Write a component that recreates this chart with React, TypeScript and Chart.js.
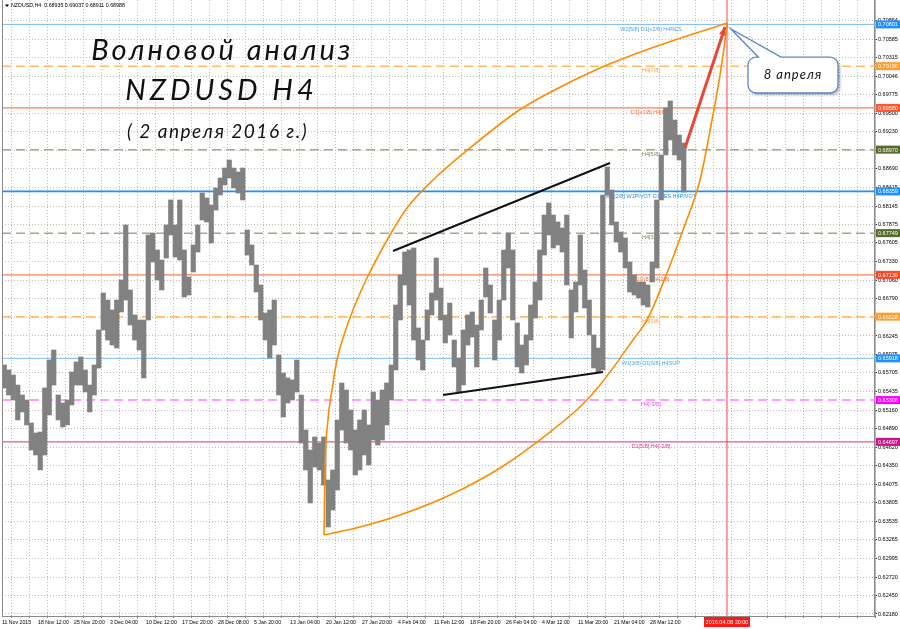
import React, { useEffect, useRef } from "react";
import { Chart, registerables } from "chart.js";
Chart.register(...registerables);

// ---------------- data ----------------
const symbolTitle = "NZDUSD,H4";
const headerOHLC = [0.68935, 0.69037, 0.68911, 0.68988];

// date labels (one every 8 samples; 1 sample = 3 H4 bars)
const xLabels = [
  "11 Nov 2015", "18 Nov 12:00", "25 Nov 20:00", "3 Dec 04:00", "10 Dec 12:00",
  "17 Dec 20:00", "28 Dec 08:00", "5 Jan 20:00", "13 Jan 04:00", "20 Jan 12:00",
  "27 Jan 20:00", "4 Feb 04:00", "11 Feb 12:00", "18 Feb 20:00", "26 Feb 04:00",
  "4 Mar 12:00", "11 Mar 20:00", "21 Mar 04:00", "28 Mar 12:00",
];
const labelStep = 8;
const gridStep = 4;
const xMin = -0.5;
const xMax = 193.5;

const highs = [
  0.65821, 0.65748, 0.65675, 0.65528, 0.65382, 0.65309, 0.64973, 0.64827, 0.64841, 0.65485,
  0.65894, 0.66040, 0.65382, 0.65265, 0.65309, 0.65719, 0.65865, 0.65938, 0.65748, 0.65528,
  0.65821, 0.66333, 0.66874, 0.66771, 0.66625, 0.66771, 0.67064, 0.67868, 0.66918, 0.66552,
  0.66479, 0.66479, 0.67722, 0.67751, 0.67502, 0.67356, 0.67868, 0.68234, 0.67868, 0.68234,
  0.67502, 0.67108, 0.67576, 0.67868, 0.68336, 0.68263, 0.68160, 0.68409, 0.68555, 0.68701,
  0.68818, 0.68701, 0.68643, 0.68701, 0.67795, 0.67576, 0.67283, 0.66991, 0.66581, 0.66625,
  0.66771, 0.65967, 0.65704, 0.65631, 0.65602, 0.65894, 0.65382, 0.64870, 0.64578, 0.64768,
  0.64680, 0.64768, 0.64139, 0.64286, 0.65017, 0.65558, 0.65455, 0.65163, 0.64870, 0.65017,
  0.65163, 0.64944, 0.65426, 0.65309, 0.65455, 0.65558, 0.65821, 0.66698, 0.67137, 0.67473,
  0.67502, 0.67532, 0.66362, 0.66186, 0.66625, 0.66874, 0.67385, 0.66947, 0.66552, 0.66727,
  0.66186, 0.65923, 0.66333, 0.66552, 0.66596, 0.66406, 0.66771, 0.67239, 0.66991, 0.66479,
  0.66771, 0.67502, 0.67751, 0.67502, 0.66435, 0.66113, 0.66260, 0.66698, 0.67035, 0.67502,
  0.68014, 0.68190, 0.68014, 0.67912, 0.67824, 0.68014, 0.66918, 0.67035, 0.67722, 0.67210,
  0.66771, 0.66260, 0.66069, 0.68307, 0.68716, 0.68380, 0.67912, 0.67766, 0.67678, 0.67327,
  0.67137, 0.67035, 0.67035, 0.66991, 0.67327, 0.68234, 0.68892, 0.69579, 0.69681, 0.69403,
  0.69184, 0.69067,
];
const lows = [
  0.65485, 0.65382, 0.65309, 0.65017, 0.65134, 0.64944, 0.64578, 0.64505, 0.64286, 0.64505,
  0.65090, 0.65528, 0.65017, 0.64914, 0.64944, 0.65236, 0.65528, 0.65528, 0.65426, 0.65134,
  0.65382, 0.65777, 0.66333, 0.66186, 0.66113, 0.66069, 0.66596, 0.66771, 0.66406, 0.66186,
  0.66040, 0.65631, 0.66479, 0.67327, 0.67064, 0.66918, 0.67385, 0.67722, 0.67400, 0.67356,
  0.66815, 0.66844, 0.67181, 0.67473, 0.67941, 0.67912, 0.67605, 0.68087, 0.68307, 0.68453,
  0.68555, 0.68409, 0.68336, 0.68234, 0.67429, 0.67283, 0.66888, 0.66479, 0.66186, 0.65923,
  0.66113, 0.65382, 0.65061, 0.65265, 0.65309, 0.65426, 0.64680, 0.64286, 0.63803, 0.64329,
  0.64286, 0.64066, 0.63452, 0.63701, 0.63993, 0.64870, 0.64680, 0.64578, 0.64212, 0.64286,
  0.64505, 0.64359, 0.64724, 0.64651, 0.64724, 0.64944, 0.65309, 0.65748, 0.66479, 0.66991,
  0.66698, 0.66186, 0.65894, 0.65748, 0.66186, 0.66552, 0.66771, 0.66479, 0.66143, 0.66260,
  0.65792, 0.65426, 0.65528, 0.66113, 0.66230, 0.65792, 0.66333, 0.66815, 0.66581, 0.65894,
  0.66186, 0.66771, 0.67239, 0.66479, 0.65792, 0.65704, 0.65821, 0.66186, 0.66508, 0.66771,
  0.67429, 0.67722, 0.67532, 0.67576, 0.67473, 0.66991, 0.66216, 0.66596, 0.66991, 0.66654,
  0.66260, 0.65777, 0.65719, 0.65748, 0.68307, 0.67868, 0.67619, 0.67473, 0.67239, 0.66888,
  0.66844, 0.66801, 0.66698, 0.66669, 0.67035, 0.67239, 0.68234, 0.68892, 0.69111, 0.68892,
  0.68818, 0.68350,
];

const yMin = 0.621507;
const yMax = 0.711579;
const yTicks = [
  0.70864, 0.70585, 0.70315, 0.70046, 0.69775, 0.695, 0.6923, 0.6896, 0.6869, 0.68415,
  0.68145, 0.67875, 0.67605, 0.6733, 0.6706, 0.6679, 0.6652, 0.66245, 0.65975, 0.65705,
  0.65435, 0.6516, 0.6489, 0.6462, 0.6435, 0.64075, 0.63805, 0.63535, 0.63265, 0.62995,
  0.6272, 0.6245, 0.6218,
];

const levelValues = [0.70801, 0.7019, 0.6958, 0.6897, 0.68359, 0.67749, 0.67139, 0.66528, 0.65918, 0.65308, 0.64697];
const levelNames = [
  "W1[5/8] D1[+2/8] H4RES", "H4[7/8]", "D1[+1/8] H4[6/8]", "H4[5/8]",
  "MN[2/8] W1PIVOT D1RES H4PIVOT", "H4[3/8]", "D1[7/8] H4[2/8]", "H4[1/8]",
  "W1[3/8] D1[6/8] H4SUP", "H4[-1/8]", "D1[5/8] H4[-2/8]",
];
const levelLabelX = 143.7;

const upperArcX = [71.06, 71.28, 71.94, 72.83, 73.94, 75.72, 77.94, 80.61, 85.72, 89.5, 95.28, 103.5, 113.5, 120.17, 132.39, 145.72, 160.72];
const upperArcY = [0.63335, 0.64286, 0.65017, 0.65455, 0.65894, 0.66303, 0.66698, 0.67093, 0.67722, 0.68117, 0.68526, 0.68994, 0.69506, 0.69769, 0.70164, 0.705, 0.70822];
const lowerArcX = [71.06, 79.06, 87.94, 99.06, 110.17, 121.28, 128.39, 132.39, 139.72, 143.06, 147.28, 150.83, 154.61, 157.28, 159.06, 160.72];
const lowerArcY = [0.63335, 0.63452, 0.63628, 0.6392, 0.64315, 0.64841, 0.65236, 0.65528, 0.66186, 0.66508, 0.67166, 0.67795, 0.68526, 0.69403, 0.70061, 0.70822];

const wedgeTopX = [86.39, 134.61];
const wedgeTopY = [0.67488, 0.68775];
const wedgeBottomX = [97.5, 133.06];
const wedgeBottomY = [0.65382, 0.65719];
const arrowX = [151.28, 160.17];
const arrowY = [0.68994, 0.70763];

const markerDateX = 160.61;
const markerDateLabel = "2016.04.08 20:00";

const titleLines = ["Волновой анализ", "NZDUSD H4", "( 2 апреля 2016 г.)"];
const titleX = [48.44, 48.28, 47.39];
const titleY = [0.70281, 0.69696, 0.6914];

const calloutText = "8 апреля";
const calloutTip = [161.5, 0.70734];
const calloutBoxX = [165.28, 185.28];
const calloutBoxY = [0.70324, 0.69798];
const calloutTailX = [167.6, 172.6];

// ---------------- styles ----------------
const levelStyles = [
  { line: "#7cbcf6", dash: [], width: 1, text: "#4ea3f0", box: "#1e90ff" },
  { line: "#ffba6a", dash: [9, 5], width: 1.5, text: "#f5a23c", box: "#ff9d2e" },
  { line: "#ff7f50", dash: [], width: 1.2, text: "#ff6a3c", box: "#ff5530" },
  { line: "#a8a886", dash: [9, 5], width: 1.5, text: "#868658", box: "#556b2f" },
  { line: "#1e90ff", dash: [], width: 1.6, text: "#1e90ff", box: "#1e90ff" },
  { line: "#a8a886", dash: [9, 5], width: 1.5, text: "#868658", box: "#556b2f" },
  { line: "#ff7f50", dash: [], width: 1.2, text: "#ff6a3c", box: "#ff4422" },
  { line: "#ffba6a", dash: [9, 5], width: 1.5, text: "#f5a23c", box: "#ff9d2e" },
  { line: "#7cbcf6", dash: [], width: 1, text: "#4ea3f0", box: "#1e90ff" },
  { line: "#ff80ff", dash: [9, 5], width: 1.5, text: "#ff40ff", box: "#ff00ff" },
  { line: "#e05aa2", dash: [], width: 1.2, text: "#d0408f", box: "#c71585" },
];

const smallFont = '"Liberation Sans", Arial, sans-serif';
const handFont = 'Lato, "Open Sans", "DejaVu Sans", sans-serif';

const overlayPlugin = {
  id: "overlay",
  beforeDatasetsDraw(chart: any) {
    const { ctx, scales } = chart;
    const x = scales.x, y = scales.y;
    ctx.save();
    ctx.font = `5.5px ${smallFont}`;
    ctx.textAlign = "center";
    ctx.textBaseline = "top";
    levelValues.forEach((v, i) => {
      ctx.fillStyle = levelStyles[i].text;
      ctx.fillText(levelNames[i], x.getPixelForValue(levelLabelX), y.getPixelForValue(v) + 2);
    });
    ctx.restore();
  },
  afterDraw(chart: any) {
    const { ctx, chartArea: ca, scales } = chart;
    const x = scales.x, y = scales.y;
    ctx.save();
    // left frame line
    ctx.strokeStyle = "#8a8a8a";
    ctx.lineWidth = 1;
    ctx.beginPath();
    ctx.moveTo(ca.left + 0.5, ca.top);
    ctx.lineTo(ca.left + 0.5, ca.bottom);
    ctx.stroke();

    // header
    ctx.fillStyle = "#000";
    ctx.font = `5.3px ${smallFont}`;
    ctx.textBaseline = "middle";
    ctx.textAlign = "left";
    ctx.beginPath();
    ctx.moveTo(ca.left + 3, ca.top + 4.5);
    ctx.lineTo(ca.left + 7, ca.top + 4.5);
    ctx.lineTo(ca.left + 5, ca.top + 7);
    ctx.closePath();
    ctx.fill();
    ctx.fillText(`${symbolTitle}  ${headerOHLC.map((v) => v.toFixed(5)).join(" ")}`, ca.left + 9, ca.top + 6);

    // red arrow head
    const ax1 = x.getPixelForValue(arrowX[0]), ay1 = y.getPixelForValue(arrowY[0]);
    const ax2 = x.getPixelForValue(arrowX[1]), ay2 = y.getPixelForValue(arrowY[1]);
    const ang = Math.atan2(ay2 - ay1, ax2 - ax1);
    ctx.fillStyle = "#e8483a";
    ctx.beginPath();
    ctx.moveTo(ax2, ay2);
    ctx.lineTo(ax2 - 9 * Math.cos(ang - 0.4), ay2 - 9 * Math.sin(ang - 0.4));
    ctx.lineTo(ax2 - 9 * Math.cos(ang + 0.4), ay2 - 9 * Math.sin(ang + 0.4));
    ctx.closePath();
    ctx.fill();

    // callout
    const bx1 = x.getPixelForValue(calloutBoxX[0]), bx2 = x.getPixelForValue(calloutBoxX[1]);
    const by1 = y.getPixelForValue(calloutBoxY[0]), by2 = y.getPixelForValue(calloutBoxY[1]);
    const tx = x.getPixelForValue(calloutTip[0]), ty = y.getPixelForValue(calloutTip[1]);
    const t1 = x.getPixelForValue(calloutTailX[0]), t2 = x.getPixelForValue(calloutTailX[1]);
    const r = 8;
    ctx.beginPath();
    ctx.moveTo(bx1 + r, by1);
    ctx.lineTo(t1, by1);
    ctx.lineTo(tx, ty);
    ctx.lineTo(t2, by1);
    ctx.lineTo(bx2 - r, by1);
    ctx.arcTo(bx2, by1, bx2, by1 + r, r);
    ctx.lineTo(bx2, by2 - r);
    ctx.arcTo(bx2, by2, bx2 - r, by2, r);
    ctx.lineTo(bx1 + r, by2);
    ctx.arcTo(bx1, by2, bx1, by2 - r, r);
    ctx.lineTo(bx1, by1 + r);
    ctx.arcTo(bx1, by1, bx1 + r, by1, r);
    ctx.closePath();
    ctx.save();
    ctx.shadowColor = "rgba(0,0,0,0.3)";
    ctx.shadowBlur = 3;
    ctx.shadowOffsetX = 2;
    ctx.shadowOffsetY = 2;
    ctx.fillStyle = "#ffffff";
    ctx.fill();
    ctx.restore();
    ctx.strokeStyle = "#5b87c9";
    ctx.lineWidth = 1.3;
    ctx.stroke();
    ctx.fillStyle = "#111";
    ctx.font = `italic 400 13px ${handFont}`;
    ctx.textAlign = "center";
    ctx.textBaseline = "middle";
    (ctx as any).letterSpacing = "1px";
    ctx.fillText(calloutText, (bx1 + bx2) / 2, (by1 + by2) / 2);

    // titles
    ctx.textBaseline = "alphabetic";
    ctx.fillStyle = "#111";
    const sizes = [29, 29, 19];
    const spacing = ["3px", "4px", "1.5px"];
    titleLines.forEach((t, i) => {
      ctx.font = `italic 400 ${sizes[i]}px ${handFont}`;
      (ctx as any).letterSpacing = spacing[i];
      ctx.fillText(t, x.getPixelForValue(titleX[i]), y.getPixelForValue(titleY[i]));
    });
    (ctx as any).letterSpacing = "0px";

    // right axis level boxes
    ctx.font = `5.5px ${smallFont}`;
    ctx.textAlign = "left";
    ctx.textBaseline = "middle";
    levelValues.forEach((v, i) => {
      const py = y.getPixelForValue(v);
      ctx.fillStyle = levelStyles[i].box;
      ctx.fillRect(ca.right + 1, py - 4, 25, 8);
      ctx.fillStyle = "#fff";
      ctx.fillText(v.toFixed(5), ca.right + 3, py + 0.5);
    });

    // date marker box
    const mx = x.getPixelForValue(markerDateX);
    ctx.fillStyle = "#ff1a1a";
    ctx.fillRect(mx - 23, ca.bottom + 1, 46, 10);
    ctx.fillStyle = "#fff";
    ctx.textAlign = "center";
    ctx.fillText(markerDateLabel, mx, ca.bottom + 6.5);
    ctx.restore();
  },
};

function lineDs(xs: number[], ys: number[], color: string, width: number, extra: any = {}) {
  return {
    type: "line",
    data: xs.map((v, i) => ({ x: v, y: ys[i] })),
    borderColor: color,
    borderWidth: width,
    pointRadius: 0,
    fill: false,
    ...extra,
  };
}

export default function App() {
  const ref = useRef<HTMLCanvasElement>(null);
  useEffect(() => {
    const datasets: any[] = [];
    levelValues.forEach((v, i) => {
      datasets.push(
        lineDs([xMin, xMax], [v, v], levelStyles[i].line, levelStyles[i].width, {
          borderDash: levelStyles[i].dash,
          order: 10,
        })
      );
    });
    datasets.push(lineDs([markerDateX, markerDateX], [yMin, yMax], "#ff4040", 1, { order: 9 }));
    datasets.push({
      type: "bar",
      data: highs.map((h, i) => ({ x: i, y: [lows[i], h] })),
      backgroundColor: "#818181",
      borderWidth: 0,
      barPercentage: 1,
      categoryPercentage: 1,
      order: 5,
    });
    datasets.push(lineDs(upperArcX, upperArcY, "#ff8c00", 1.6, { cubicInterpolationMode: "monotone", order: 2 }));
    datasets.push(lineDs(lowerArcX, lowerArcY, "#ff8c00", 1.6, { cubicInterpolationMode: "monotone", order: 2 }));
    datasets.push(lineDs(wedgeTopX, wedgeTopY, "#111", 2, { order: 1 }));
    datasets.push(lineDs(wedgeBottomX, wedgeBottomY, "#111", 2, { order: 1 }));
    datasets.push(lineDs(arrowX, arrowY, "#e8483a", 3, { order: 0 }));

    const chart = new Chart(ref.current as HTMLCanvasElement, {
      type: "bar",
      data: { datasets },
      options: {
        animation: false,
        responsive: false,
        maintainAspectRatio: false,
        layout: { padding: { left: 2, top: 0, right: 0, bottom: 0 } },
        plugins: { legend: { display: false }, tooltip: { enabled: false } },
        scales: {
          x: {
            type: "linear",
            min: xMin,
            max: xMax,
            offset: false,
            afterBuildTicks: (s: any) => {
              const t = [];
              for (let v = xMin; v < xMax - 1; v += gridStep) t.push({ value: v });
              s.ticks = t;
            },
            afterFit: (s: any) => {
              s.height = 13;
              s.paddingLeft = 0;
              s.paddingRight = 0;
            },
            ticks: {
              autoSkip: false,
              maxRotation: 0,
              minRotation: 0,
              align: "start",
              padding: 1,
              color: "#000",
              font: { size: 5.2, family: smallFont },
              callback: (_v: any, i: number) => {
                const step = labelStep / gridStep;
                return i % step === 0 && xLabels[i / step] ? xLabels[i / step] : "";
              },
            },
            grid: { color: "#bdbdbd", lineWidth: 1, tickLength: 2, tickColor: "#777" },
            border: { display: true, color: "#8a8a8a", width: 1, dash: [1, 2] },
          },
          y: {
            type: "linear",
            position: "right",
            min: yMin,
            max: yMax,
            afterBuildTicks: (s: any) => {
              s.ticks = yTicks.map((v) => ({ value: v }));
            },
            afterFit: (s: any) => {
              s.width = 25;
              s.paddingTop = 0;
              s.paddingBottom = 0;
            },
            ticks: {
              padding: 1,
              color: "#000",
              font: { size: 5.5, family: smallFont },
              callback: (v: any) => Number(v).toFixed(5),
            },
            grid: { color: "#bdbdbd", lineWidth: 1, tickLength: 2, tickColor: "#333" },
            border: { display: true, color: "#8a8a8a", width: 1.5, dash: [1, 2] },
          },
        },
      } as any,
      plugins: [overlayPlugin],
    } as any);
    return () => chart.destroy();
  }, []);
  return (
    <div style={{ position: "fixed", left: 0, top: 0, width: 900, height: 629, background: "#fff" }}>
      <canvas ref={ref} width={900} height={629} style={{ width: 900, height: 629, display: "block" }} />
    </div>
  );
}
